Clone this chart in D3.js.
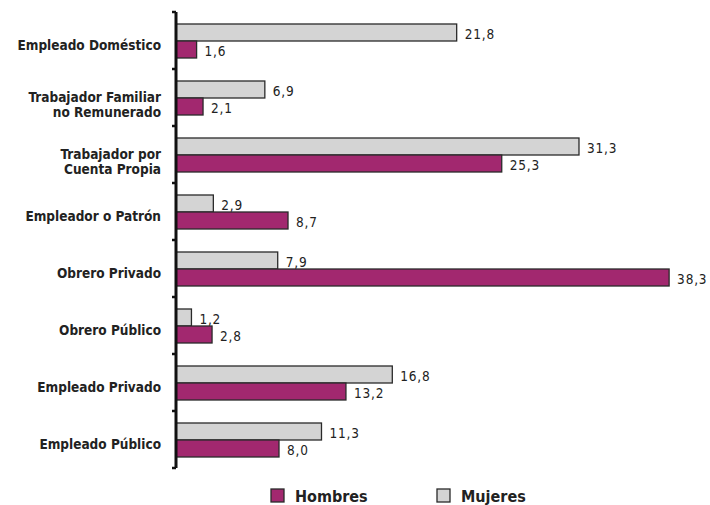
<!DOCTYPE html>
<html>
<head>
<meta charset="utf-8">
<script src="https://cdn.jsdelivr.net/npm/d3@7"></script>
<style>
  body { margin: 0; background: #fff; }
  #chart { width: 710px; height: 505px; }
  text { font-family: "DejaVu Sans", sans-serif; fill: #222; }
</style>
</head>
<body>
<div id="chart"></div>
<script>
const categories = [
  "Empleado Doméstico",
  "Trabajador Familiar\nno Remunerado",
  "Trabajador por\nCuenta Propia",
  "Empleador o Patrón",
  "Obrero Privado",
  "Obrero Público",
  "Empleado Privado",
  "Empleado Público"
];
const mujeres = [21.8, 6.9, 31.3, 2.9, 7.9, 1.2, 16.8, 11.3];
const hombres = [1.6, 2.1, 25.3, 8.7, 38.3, 2.8, 13.2, 8.0];
const seriesNames = ["Mujeres", "Hombres"];
const legendOrder = ["Hombres", "Mujeres"];
const colors = { Hombres: "#a2286f", Mujeres: "#d4d4d4" };

function renderChart(containerId) {
  const container = d3.select(`#${containerId}`);
  container.selectAll("*").remove();

  const width = 710, height = 505;
  const margin = { top: 12, right: 20, bottom: 37, left: 176 };
  const innerHeight = height - margin.top - margin.bottom;

  const svg = container.append("svg")
    .attr("width", width)
    .attr("height", height);

  const g = svg.append("g")
    .attr("transform", `translate(${margin.left},${margin.top})`);

  const y = d3.scaleBand()
    .domain(categories)
    .range([0, innerHeight]);

  const ySub = d3.scaleBand()
    .domain(seriesNames)
    .range([12, y.bandwidth() - 11])
    .padding(0);

  const x = d3.scaleLinear()
    .domain([0, 40])
    .range([0, 515]);

  const rows = categories.map((c, i) => ({ cat: c, Mujeres: mujeres[i], Hombres: hombres[i] }));

  const groups = g.selectAll("g.row")
    .data(rows)
    .join("g")
    .attr("class", "row")
    .attr("transform", d => `translate(0,${y(d.cat)})`);

  seriesNames.forEach(s => {
    groups.append("rect")
      .attr("x", 0)
      .attr("y", ySub(s))
      .attr("width", d => x(d[s]))
      .attr("height", ySub.bandwidth())
      .attr("fill", colors[s])
      .attr("stroke", "#2a2a2a")
      .attr("stroke-width", 1.3);

    groups.append("text")
      .attr("x", d => x(d[s]) + 8)
      .attr("y", ySub(s) + ySub.bandwidth() / 2 + 6)
      .style("font-size", "13.5px")
      .style("font-family", "'DejaVu Sans Condensed', sans-serif")
      .style("letter-spacing", "0.8px")
      .text(d => d3.format(".1f")(d[s]).replace(".", ","));
  });

  // category labels
  groups.each(function(d) {
    const lines = d.cat.split("\n");
    const mid = y.bandwidth() / 2;
    d3.select(this).selectAll("text.cat")
      .data(lines)
      .join("text")
      .attr("class", "cat")
      .attr("text-anchor", "end")
      .attr("x", -15)
      .attr("y", (ln, i) => lines.length === 1 ? mid + 9.5 : mid + 4 + i * 15)
      .style("font-size", "13.5px")
      .style("font-family", "'DejaVu Sans Condensed', sans-serif")
      .style("font-weight", "bold")
      .text(ln => ln);
  });

  // axis line with boundary ticks
  g.append("line")
    .attr("x1", 0).attr("x2", 0)
    .attr("y1", 0).attr("y2", innerHeight)
    .attr("stroke", "#111")
    .attr("stroke-width", 3);

  const bounds = categories.map(c => y(c)).concat([innerHeight]);
  g.selectAll("line.tick")
    .data(bounds)
    .join("line")
    .attr("class", "tick")
    .attr("x1", -4).attr("x2", 0)
    .attr("y1", d => d).attr("y2", d => d)
    .attr("stroke", "#111")
    .attr("stroke-width", 2.5);

  // legend
  const legendX = { Hombres: 271, Mujeres: 437 };
  const legend = svg.append("g");
  legendOrder.forEach(s => {
    legend.append("rect")
      .attr("x", legendX[s])
      .attr("y", 489)
      .attr("width", 13)
      .attr("height", 13)
      .attr("fill", colors[s])
      .attr("stroke", "#2a2a2a")
      .attr("stroke-width", 1.3);
    legend.append("text")
      .attr("x", legendX[s] + 24)
      .attr("y", 502)
      .style("font-size", "16px")
      .style("font-family", "'DejaVu Sans Condensed', sans-serif")
      .style("font-weight", "bold")
      .text(s);
  });
}

document.addEventListener("DOMContentLoaded", () => renderChart("chart"));
</script>
</body>
</html>
